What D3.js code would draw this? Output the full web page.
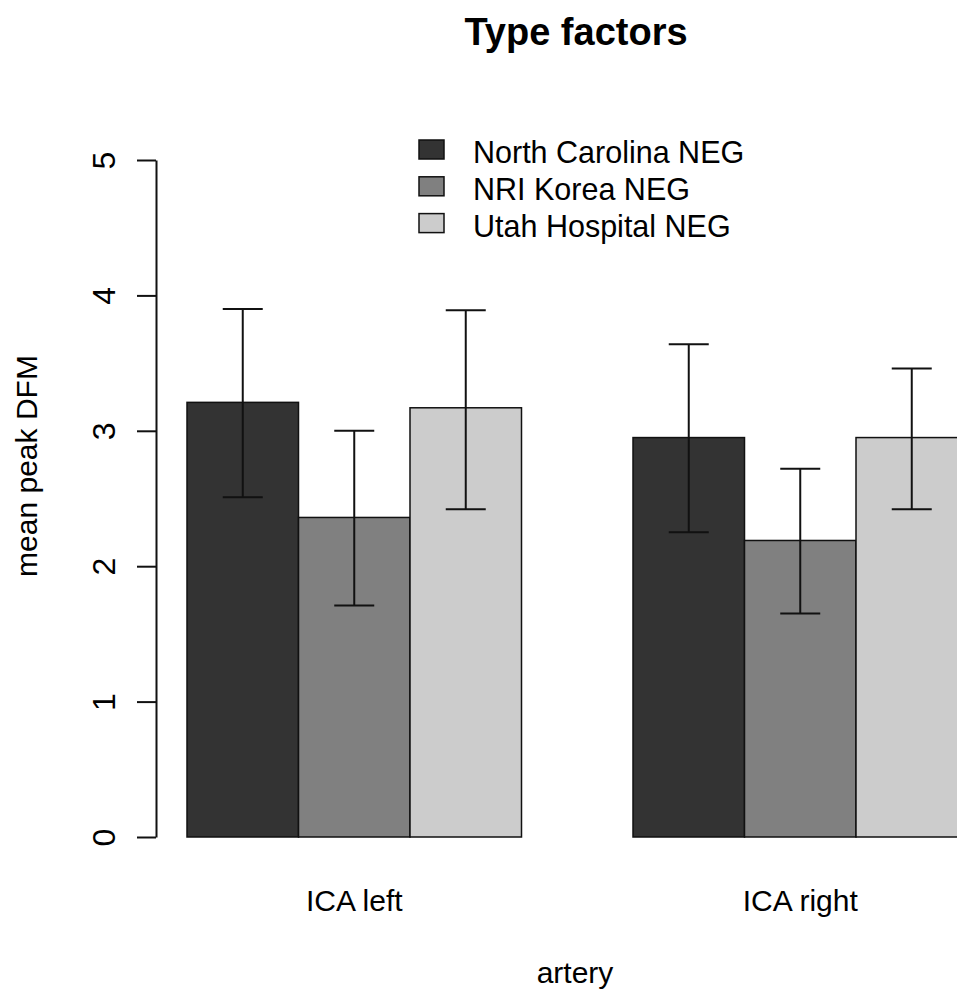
<!DOCTYPE html>
<html>
<head>
<meta charset="utf-8">
<script src="https://cdn.jsdelivr.net/npm/d3@7"></script>
<style>
  body { margin: 0; background: #fff; }
  svg { display: block; font-family: "Liberation Sans", Arial, sans-serif; }
</style>
</head>
<body>
<svg width="957" height="996"></svg>
<script>
// data
var categories = ["ICA left", "ICA right"];
var series = ["North Carolina NEG", "NRI Korea NEG", "Utah Hospital NEG"];
var fills = ["#333333", "#808080", "#cccccc"];
var means = [[3.21, 2.95], [2.36, 2.19], [3.17, 2.95]];
var lower = [[2.51, 2.25], [1.71, 1.65], [2.42, 2.42]];
var upper = [[3.90, 3.64], [3.00, 2.72], [3.89, 3.46]];
var yTicks = [0, 1, 2, 3, 4, 5];

var svg = d3.select("svg");

var y = d3.scaleLinear().domain([0, 5]).range([837, 160]);

// groups: one bar width gap between groups, same as R barplot(beside=TRUE)
var x0 = d3.scaleBand().domain(categories)
    .range([75.5, 1079]).paddingInner(0.25).paddingOuter(0.25);
var x1 = d3.scaleBand().domain(series).range([0, x0.bandwidth()]);

var rows = [];
series.forEach(function(s, i) {
  categories.forEach(function(c, j) {
    rows.push({ s: s, c: c, i: i, v: means[i][j], lo: lower[i][j], hi: upper[i][j] });
  });
});

// bars
svg.append("g").selectAll("rect")
  .data(rows)
  .enter().append("rect")
    .attr("x", function(d) { return x0(d.c) + x1(d.s); })
    .attr("y", function(d) { return y(d.v); })
    .attr("width", x1.bandwidth())
    .attr("height", function(d) { return y(0) - y(d.v); })
    .attr("fill", function(d) { return fills[d.i]; })
    .attr("stroke", "#111")
    .attr("stroke-width", 1.5);

// error bars
var err = svg.append("g").attr("stroke", "#111").attr("stroke-width", 2);
rows.forEach(function(d) {
  var cx = x0(d.c) + x1(d.s) + x1.bandwidth() / 2;
  err.append("line").attr("x1", cx).attr("x2", cx).attr("y1", y(d.lo)).attr("y2", y(d.hi));
  err.append("line").attr("x1", cx - 20).attr("x2", cx + 20).attr("y1", y(d.hi)).attr("y2", y(d.hi));
  err.append("line").attr("x1", cx - 20).attr("x2", cx + 20).attr("y1", y(d.lo)).attr("y2", y(d.lo));
});

// y axis
var yAxis = svg.append("g")
    .attr("transform", "translate(156,0)")
    .call(d3.axisLeft(y).tickValues(yTicks).tickSize(19).tickSizeOuter(0).tickFormat(d3.format("d")));
yAxis.select(".domain").attr("stroke", "#111").attr("stroke-width", 2);
yAxis.selectAll(".tick line").attr("stroke", "#111").attr("stroke-width", 2);
yAxis.selectAll(".tick text")
    .attr("x", null).attr("dy", null)
    .attr("transform", "translate(-41,0) rotate(-90)")
    .attr("text-anchor", "middle")
    .attr("fill", "#000")
    .style("font-size", "32px")
    .style("font-family", "'Liberation Sans', Arial, sans-serif");

// category labels
svg.append("g").selectAll("text")
  .data(categories)
  .enter().append("text")
    .attr("x", function(c) { return x0(c) + x0.bandwidth() / 2; })
    .attr("y", 911)
    .attr("text-anchor", "middle")
    .style("font-size", "30px")
    .text(function(c) { return c; });

// titles
svg.append("text")
    .attr("x", 576).attr("y", 45)
    .attr("text-anchor", "middle")
    .style("font-size", "38px").style("font-weight", "bold")
    .text("Type factors");

svg.append("text")
    .attr("x", 575).attr("y", 983)
    .attr("text-anchor", "middle")
    .style("font-size", "30px")
    .text("artery");

svg.append("text")
    .attr("transform", "translate(37,466) rotate(-90)")
    .attr("text-anchor", "middle")
    .style("font-size", "30px")
    .text("mean peak DFM");

// legend
var legend = svg.append("g").selectAll("g")
  .data(series)
  .enter().append("g")
    .attr("transform", function(d, i) { return "translate(0," + (163 + i * 36.8) + ")"; });
legend.append("rect")
    .attr("x", 419).attr("y", -23)
    .attr("width", 25).attr("height", 19)
    .attr("fill", function(d, i) { return fills[i]; })
    .attr("stroke", "#111").attr("stroke-width", 1.5);
legend.append("text")
    .attr("x", 473).attr("y", 0)
    .style("font-size", "30.5px")
    .text(function(d) { return d; });
</script>
</body>
</html>
